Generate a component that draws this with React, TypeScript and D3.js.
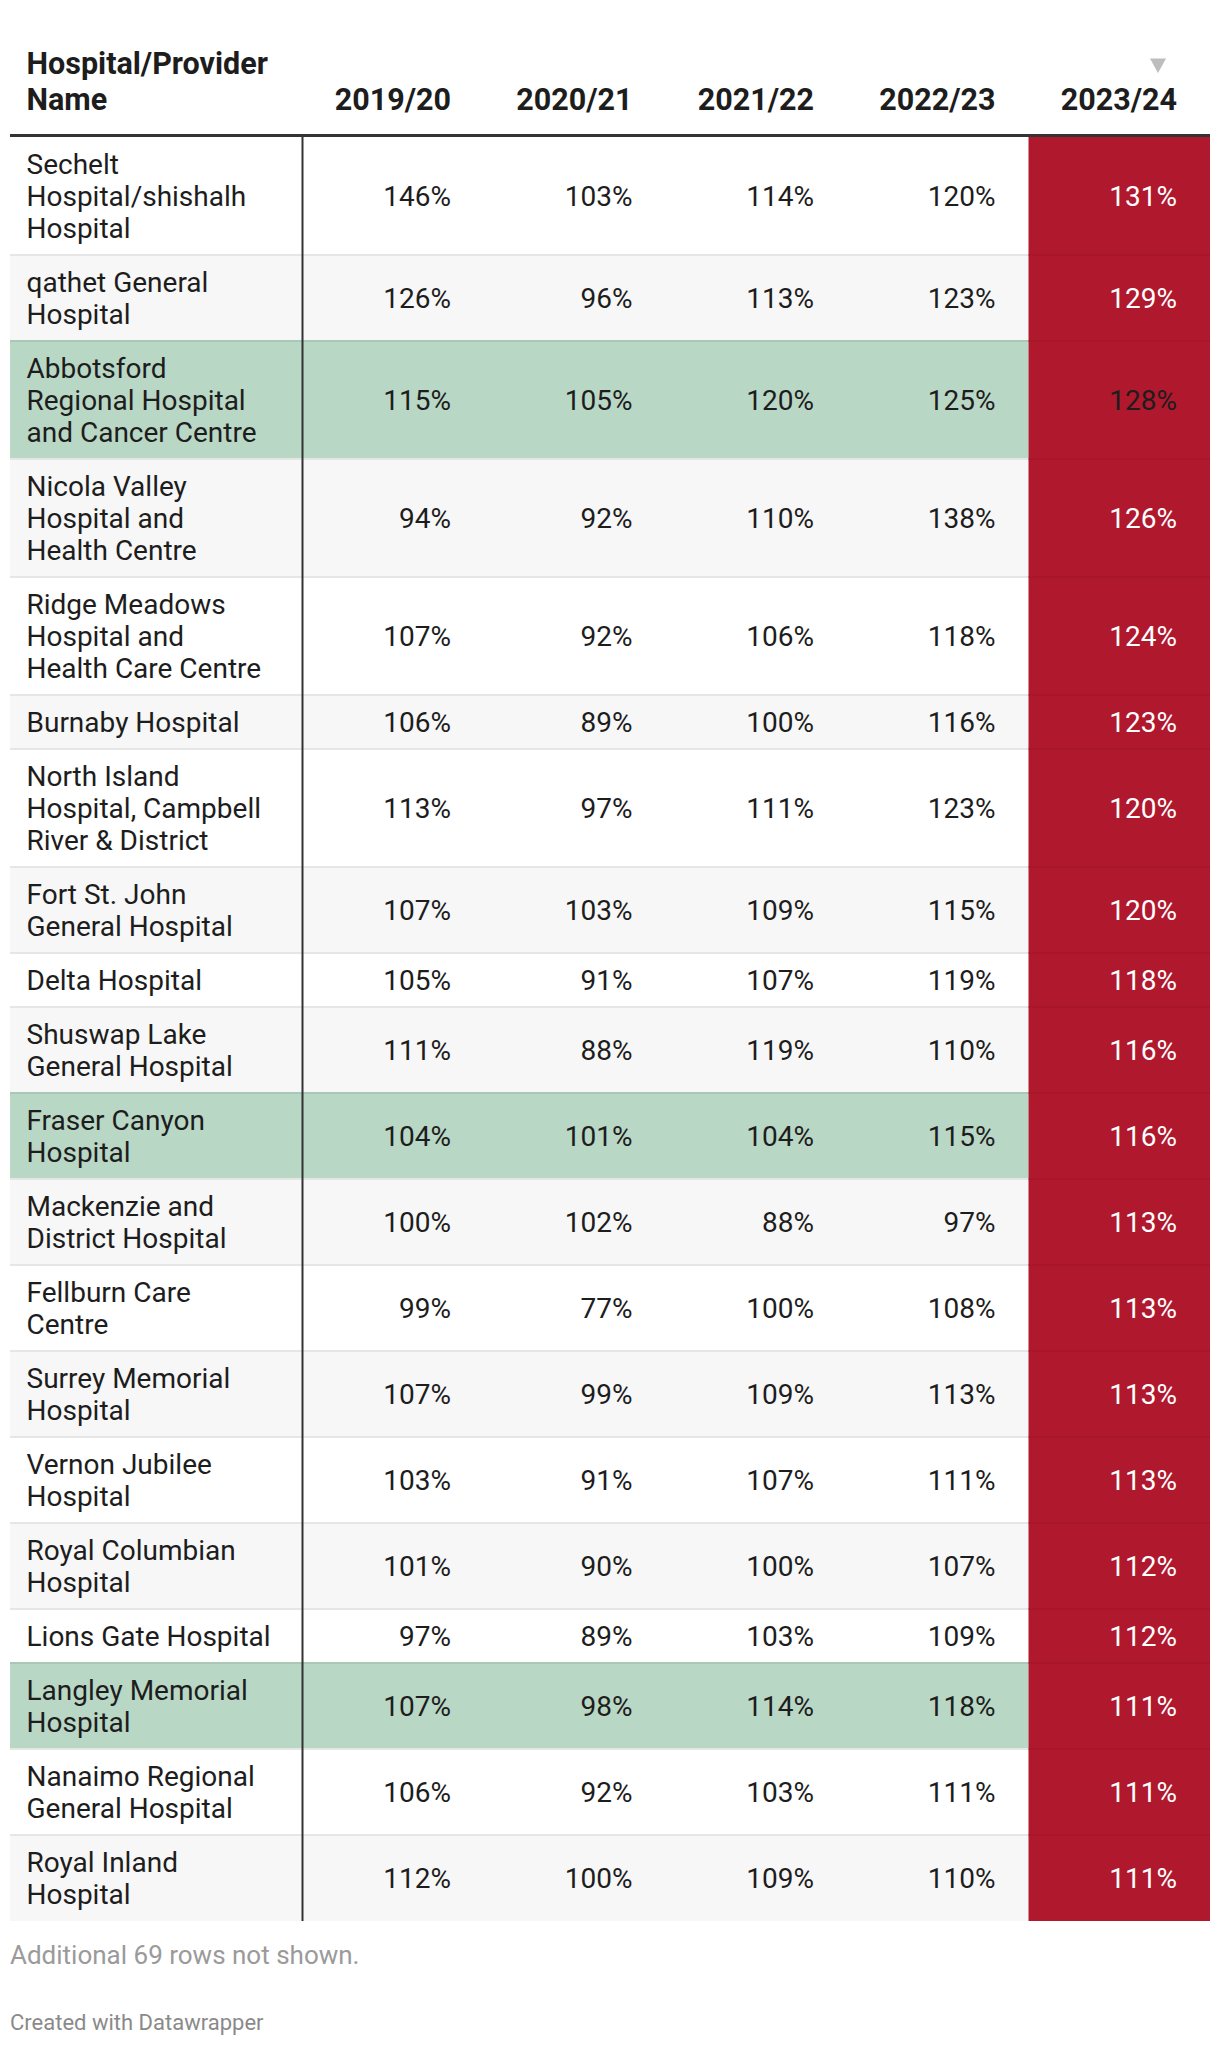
import React from "react";
import * as d3 from "d3";

const years = ["2019/20", "2020/21", "2021/22", "2022/23", "2023/24"];

const nameLines: string[][] = [
  ["Sechelt", "Hospital/shishalh", "Hospital"],
  ["qathet General", "Hospital"],
  ["Abbotsford", "Regional Hospital", "and Cancer Centre"],
  ["Nicola Valley", "Hospital and", "Health Centre"],
  ["Ridge Meadows", "Hospital and", "Health Care Centre"],
  ["Burnaby Hospital"],
  ["North Island", "Hospital, Campbell", "River & District"],
  ["Fort St. John", "General Hospital"],
  ["Delta Hospital"],
  ["Shuswap Lake", "General Hospital"],
  ["Fraser Canyon", "Hospital"],
  ["Mackenzie and", "District Hospital"],
  ["Fellburn Care", "Centre"],
  ["Surrey Memorial", "Hospital"],
  ["Vernon Jubilee", "Hospital"],
  ["Royal Columbian", "Hospital"],
  ["Lions Gate Hospital"],
  ["Langley Memorial", "Hospital"],
  ["Nanaimo Regional", "General Hospital"],
  ["Royal Inland", "Hospital"],
];

const v2019 = [146, 126, 115, 94, 107, 106, 113, 107, 105, 111, 104, 100, 99, 107, 103, 101, 97, 107, 106, 112];
const v2020 = [103, 96, 105, 92, 92, 89, 97, 103, 91, 88, 101, 102, 77, 99, 91, 90, 89, 98, 92, 100];
const v2021 = [114, 113, 120, 110, 106, 100, 111, 109, 107, 119, 104, 88, 100, 109, 107, 100, 103, 114, 103, 109];
const v2022 = [120, 123, 125, 138, 118, 116, 123, 115, 119, 110, 115, 97, 108, 113, 111, 107, 109, 118, 111, 110];
const v2023 = [131, 129, 128, 126, 124, 123, 120, 120, 118, 116, 116, 113, 113, 113, 113, 112, 112, 111, 111, 111];

const highlightedRows = [2, 10, 17];
const darkLabelInHeatColumn = [2];

const headerNameLines = ["Hospital/Provider", "Name"];
const footerNote = "Additional 69 rows not shown.";
const creditText = "Created with Datawrapper";

const W = 1220;
const H = 2046;
const tableLeft = 10;
const tableRight = 1210;
const divider = 302.5;
const tableTop = 137;
const lineH = 32;
const padV = 11;
const bodySize = 28;
const headSize = 30.5;
const FONT = "Roboto, 'Noto Sans', sans-serif";

export default function App() {
  const series = [v2019, v2020, v2021, v2022, v2023];
  const xCol = d3.scaleBand<string>().domain(years).range([divider, tableRight]).paddingInner(0).paddingOuter(0);
  const bw = xCol.bandwidth();

  const heights = nameLines.map((l) => padV * 2 + lineH * l.length);
  const tops: number[] = [];
  let acc = tableTop;
  heights.forEach((h) => {
    tops.push(acc);
    acc += h;
  });
  const tableBottom = acc;

  const heatX = xCol(years[years.length - 1]) as number;
  const off = bodySize * 0.355;

  return (
    <svg
      width={W}
      height={H}
      viewBox={`0 0 ${W} ${H}`}
      style={{ position: "absolute", left: 0, top: 0, display: "block", background: "#fff" }}
      fontFamily={FONT}
    >
      <rect x={0} y={0} width={W} height={H} fill="#ffffff" />
      {/* header */}
      <g fill="#1d1d1d" fontWeight={700} fontSize={headSize}>
        {headerNameLines.map((t, i) => (
          <text key={t} x={26.5} y={74 + i * 36}>
            {t}
          </text>
        ))}
        {years.map((y) => (
          <text key={y} x={(xCol(y) as number) + bw - 33} y={110} textAnchor="end">
            {y}
          </text>
        ))}
      </g>
      {/* sort triangle */}
      <path d={`M${1150},${58.5} L${1166},${58.5} L${1158},${73} Z`} fill="#bdbdbd" />

      {/* rows */}
      {nameLines.map((lines, r) => {
        const top = tops[r];
        const h = heights[r];
        const hl = highlightedRows.includes(r);
        const bg = hl ? "#b9d7c5" : r % 2 === 1 ? "#f7f7f7" : "#ffffff";
        const cy = top + h / 2;
        return (
          <g key={r}>
            <rect x={tableLeft} y={top} width={heatX - tableLeft} height={h} fill={bg} />
            <rect x={heatX} y={top} width={tableRight - heatX} height={h} fill="#b0182d" />
            {r > 0 && (
              <>
                <rect
                  x={tableLeft}
                  y={top - 1}
                  width={heatX - tableLeft}
                  height={2}
                  fill={hl ? "#a9c9b6" : "#e6e6e6"}
                />
                <rect x={heatX} y={top - 1} width={tableRight - heatX} height={2} fill="#a71629" />
              </>
            )}
            {lines.map((t, i) => (
              <text
                key={i}
                x={26.5}
                y={cy - ((lines.length - 1) * lineH) / 2 + i * lineH + off}
                fontSize={bodySize}
                fill="#1d1d1d"
              >
                {t}
              </text>
            ))}
            {years.map((y, c) => {
              const isHeat = c === years.length - 1;
              const fill = isHeat && !darkLabelInHeatColumn.includes(r) ? "#ffffff" : "#1d1d1d";
              return (
                <text
                  key={y}
                  x={(xCol(y) as number) + bw - 33}
                  y={cy + off}
                  textAnchor="end"
                  fontSize={bodySize}
                  fill={fill}
                >
                  {series[c][r] + "%"}
                </text>
              );
            })}
          </g>
        );
      })}

      {/* header rule */}
      <rect x={tableLeft} y={134} width={tableRight - tableLeft} height={3} fill="#333333" />
      {/* vertical divider */}
      <rect x={divider - 1} y={tableTop} width={2} height={tableBottom - tableTop} fill="#333333" />

      {/* footer */}
      <text x={10} y={1964} fontSize={26} fill="#9a9a9a">
        {footerNote}
      </text>
      <text x={10} y={2030} fontSize={22} fill="#8a8a8a">
        {creditText}
      </text>
    </svg>
  );
}
